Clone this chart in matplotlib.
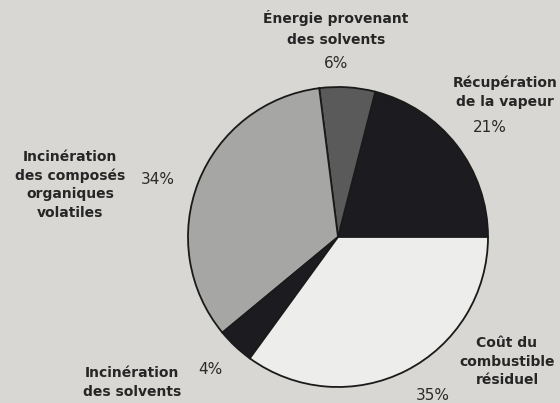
import matplotlib
matplotlib.use("Agg")
import matplotlib.pyplot as plt

# slices, counter-clockwise from 3 o'clock
labels = ["Récupération\nde la vapeur",
          "Énergie provenant\ndes solvents",
          "Incinération\ndes composés\norganiques\nvolatiles",
          "Incinération\ndes solvents",
          "Coût du\ncombustible\nrésiduel"]
shares = [21, 6, 34, 4, 35]
pct_labels = ["21%", "6%", "34%", "4%", "35%"]

colors = ["#1c1c20", "#5a5a5a", "#a6a6a4", "#1c1c20", "#ededeb"]

# label placement in pixels (x, y from top) -- layout only
label_xy = [(505, 92.5), (336, 28.5), (70, 185), (132, 382.5), (507, 361.5)]
pct_xy = [(490, 128), (336, 64), (158, 180), (210, 370), (433, 395)]
label_spacing = [1.45, 1.58, 1.38, 1.45, 1.4]

W, H = 560, 403
bg = "#d8d7d3"

fig = plt.figure(figsize=(W / 100, H / 100), dpi=100, facecolor=bg)

cx, cy, r = 338, 237, 150
ax = fig.add_axes([(cx - r) / W, (H - cy - r) / H, 2 * r / W, 2 * r / H])
ax.set_facecolor(bg)

wedges, _ = ax.pie(shares, colors=colors, startangle=0, counterclock=True,
                   wedgeprops=dict(edgecolor="#1a1a1a", linewidth=1.3))
ax.set_xlim(-1.0, 1.0)
ax.set_ylim(-1.0, 1.0)
ax.set_aspect("auto")
ax.axis("off")

for lab, (x, y), ls in zip(labels, label_xy, label_spacing):
    fig.text(x / W, 1 - y / H, lab, ha="center", va="center",
             fontsize=10, fontweight="bold", color="#262626",
             family="DejaVu Sans", linespacing=ls)

for p, (x, y) in zip(pct_labels, pct_xy):
    fig.text(x / W, 1 - y / H, p, ha="center", va="center",
             fontsize=11, color="#2a2a2a", family="DejaVu Sans")

fig.savefig("out.png", dpi=100, facecolor=bg)
